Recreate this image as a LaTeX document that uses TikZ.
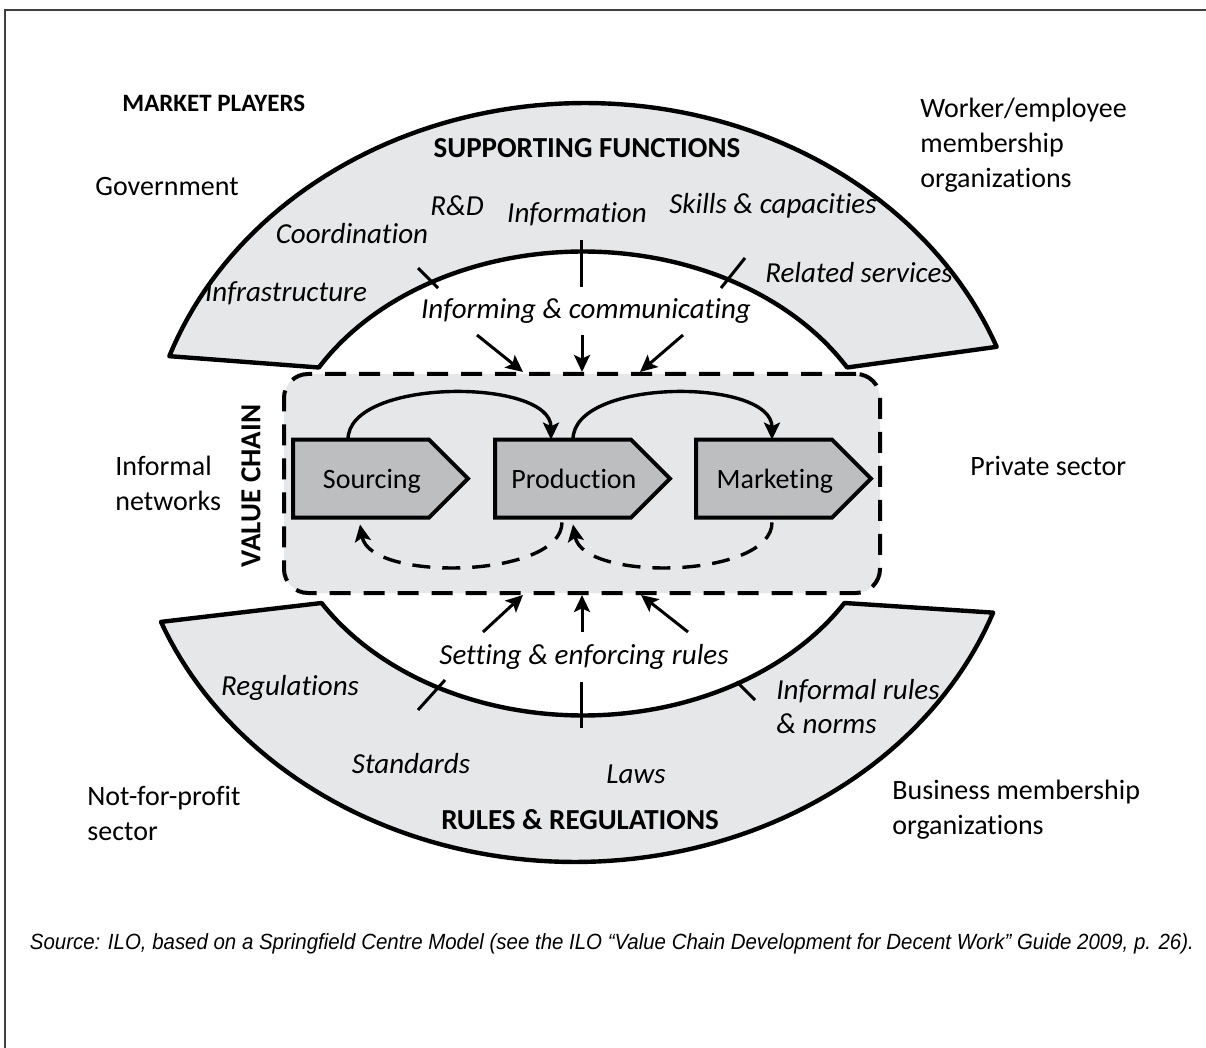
\documentclass[tikz,border=0pt]{standalone}
\usepackage{fontspec}
\usepackage{graphicx}
\setmainfont{Carlito}[RawFeature={-liga;-clig;-dlig}]
\newfontfamily\srcfont{Liberation Sans}
\usetikzlibrary{arrows.meta,calc}
\definecolor{bandgray}{HTML}{E6E7E8}
\definecolor{stagegray}{HTML}{BCBEC0}
\pgfdeclarelayer{bandlayer}
\pgfdeclarelayer{stagelayer}
\pgfsetlayers{bandlayer,stagelayer,main}
\begin{document}
\begin{tikzpicture}[x=0.5pt,y=-0.5pt,
  band/.style={fill=bandgray, draw=black, line width=2.2pt, line join=round},
  vcbox/.style={draw=black, fill=bandgray, line width=2pt, dash pattern=on 10.5pt off 6.5pt, rounded corners=12pt, minimum width=298pt, minimum height=109.5pt, inner sep=0pt},
  stagebox/.style={fill=stagegray, draw=black, line width=2pt, line join=miter},
  stagelabel/.style={minimum width=78.5pt, minimum height=39pt, inner sep=0pt, anchor=west, text height=11.5pt, text depth=2pt, font=\fontsize{14pt}{17pt}\selectfont},
  tipstyle/.style={-{Stealth[length=8.5pt,width=8pt,inset=1.8pt]}},
  flowarc/.style={tipstyle, line width=1.7pt},
  backarc/.style={tipstyle, line width=1.7pt, dash pattern=on 9pt off 6pt},
  inarrow/.style={tipstyle, line width=1.5pt},
  tickmark/.style={line width=1.5pt},
  plain/.style={font=\fontsize{14pt}{17.5pt}\selectfont, inner sep=0pt, align=left},
  lbl/.style={font=\fontsize{14.5pt}{17pt}\selectfont\itshape, inner sep=0pt, align=left},
  head/.style={font=\fontsize{14.5pt}{17pt}\selectfont\bfseries, inner sep=0pt}
]
\useasboundingbox (0,0) rectangle (1206,1048);
% frame
\coordinate (fr1) at (1206,10);
\coordinate (fr2) at (5,10);
\coordinate (fr3) at (5,1048);
\draw[black!75, line width=1pt] (fr1) -- (fr2) -- (fr3);

\begin{pgfonlayer}{bandlayer}
% supporting functions band
\filldraw[band] plot[domain=160.5:21, samples=90, variable=\t] ({585+441*cos(\t)},{483-380*sin(\t)})
  -- plot[domain=30:150, samples=90, variable=\t] ({583+305*cos(\t)},{483.5-232*sin(\t)}) -- cycle;
% rules & regulations band
\filldraw[band] plot[domain=201.5:340, samples=90, variable=\t] ({575+445*cos(\t)},{483-379*sin(\t)})
  -- plot[domain=329:211, samples=90, variable=\t] ({583+305*cos(\t)},{483.5-232*sin(\t)}) -- cycle;
% value chain box
\node[vcbox] (vc) at (582,483.5) {};
\end{pgfonlayer}

% stages
\node[stagelabel] (src) at (293,479) {Sourcing};
\node[stagelabel] (prod) at (495,479) {Production};
\node[stagelabel] (mkt) at (696,479) {Marketing};
\begin{pgfonlayer}{stagelayer}
\foreach \n in {src,prod,mkt}{
  \draw[stagebox] (\n.north west) -- ++(136,0) -- ++(39,39) -- ++(-39,39) -- ++(-136,0) -- cycle;
}
\end{pgfonlayer}

% forward arcs
\draw[flowarc] ([xshift=27.5pt]src.north west) .. controls +(0,-62) and +(0,-62) .. ([xshift=28pt]prod.north west);
\draw[flowarc] ([xshift=39pt]prod.north west) .. controls +(0,-62) and +(0,-62) .. ([xshift=38pt]mkt.north west);
% feedback arcs
\draw[backarc] ([xshift=33.5pt,yshift=-2pt]prod.south west) .. controls +(0,56) and +(10,58) .. ([xshift=33.5pt,yshift=-3pt]src.south west);
\draw[backarc] ([xshift=38pt,yshift=-2pt]mkt.south west) .. controls +(0,56) and +(10,58) .. ([xshift=39pt,yshift=-3pt]prod.south west);

% inputs from supporting functions
\coordinate (t1a) at (418,268); \coordinate (t1b) at (438,288);
\coordinate (t2a) at (581.7,240); \coordinate (t2b) at (581.7,287);
\coordinate (t3a) at (745,258); \coordinate (t3b) at (721,288);
\draw[tickmark] (t1a) -- (t1b);
\draw[tickmark] (t2a) -- (t2b);
\draw[tickmark] (t3a) -- (t3b);
\coordinate (i1) at (477,335);
\coordinate (i2) at (582,335);
\coordinate (i3) at (683,335);
\draw[inarrow] (i1) -- ([xshift=-29.5pt]vc.north);
\draw[inarrow] (i2) -- (vc.north);
\draw[inarrow] (i3) -- ([xshift=29pt]vc.north);

% inputs from rules & regulations
\coordinate (b1a) at (418,710); \coordinate (b1b) at (445,680);
\coordinate (b2a) at (581.7,682); \coordinate (b2b) at (581.7,728);
\coordinate (b3a) at (736.7,681.7); \coordinate (b3b) at (755,700);
\draw[tickmark] (b1a) -- (b1b);
\draw[tickmark] (b2a) -- (b2b);
\draw[tickmark] (b3a) -- (b3b);
\coordinate (r1) at (483,632);
\coordinate (r2) at (582,632);
\coordinate (r3) at (688,632);
\draw[inarrow] (r1) -- ([xshift=-29.5pt]vc.south);
\draw[inarrow] (r2) -- (vc.south);
\draw[inarrow] (r3) -- ([xshift=29.5pt]vc.south);

% headings
\node[head, anchor=west, font=\fontsize{12.5pt}{15pt}\selectfont\bfseries] (mp) at (122,103) {MARKET PLAYERS};
\node[head] (sf) at (587,148) {SUPPORTING FUNCTIONS};
\node[head] (rr) at (580,820) {RULES \& REGULATIONS};
\node[head, rotate=90] (vct) at (251,486) {VALUE CHAIN};

% market players
\node[plain, anchor=west] (gov) at (95,187) {Government};
\node[plain, anchor=west] (wrk) at (920,145) {Worker/employee\\membership\\organizations};
\node[plain, anchor=west] (inf) at (115,483) {Informal\\networks};
\node[plain, anchor=west] (priv) at (970,466) {Private sector};
\node[plain, anchor=west] (nfp) at (87,813) {Not-for-profit\\sector};
\node[plain, anchor=west] (bus) at (892,810) {Business membership\\organizations};

% supporting function labels
\node[lbl] (rd) at (457,206) {R\&D};
\node[lbl] (info) at (577,214) {Information};
\node[lbl] (skills) at (773,206) {Skills \& capacities};
\node[lbl] (coord) at (352,234) {Coordination};
\node[lbl] (infra) at (286,293) {Infrastructure};
\node[lbl] (rel) at (859,273) {Related services};
\node[lbl] (infcom) at (586,311) {Informing \& communicating};

% rules labels
\node[lbl] (set) at (584,657) {Setting \& enforcing rules};
\node[lbl] (reg) at (290,688) {Regulations};
\node[lbl, anchor=west] (infr) at (776,707) {Informal rules\\\& norms};
\node[lbl] (std) at (411,764) {Standards};
\node[lbl] (laws) at (636,774) {Laws};

% source
\node[inner sep=0pt] (source) at (612,944) {\resizebox{582pt}{\height}{\srcfont\itshape\fontsize{11pt}{13pt}\selectfont Source: ILO, based on a Springfield Centre Model (see the ILO “Value Chain Development for Decent Work” Guide 2009, p. 26).}};
\end{tikzpicture}
\end{document}
